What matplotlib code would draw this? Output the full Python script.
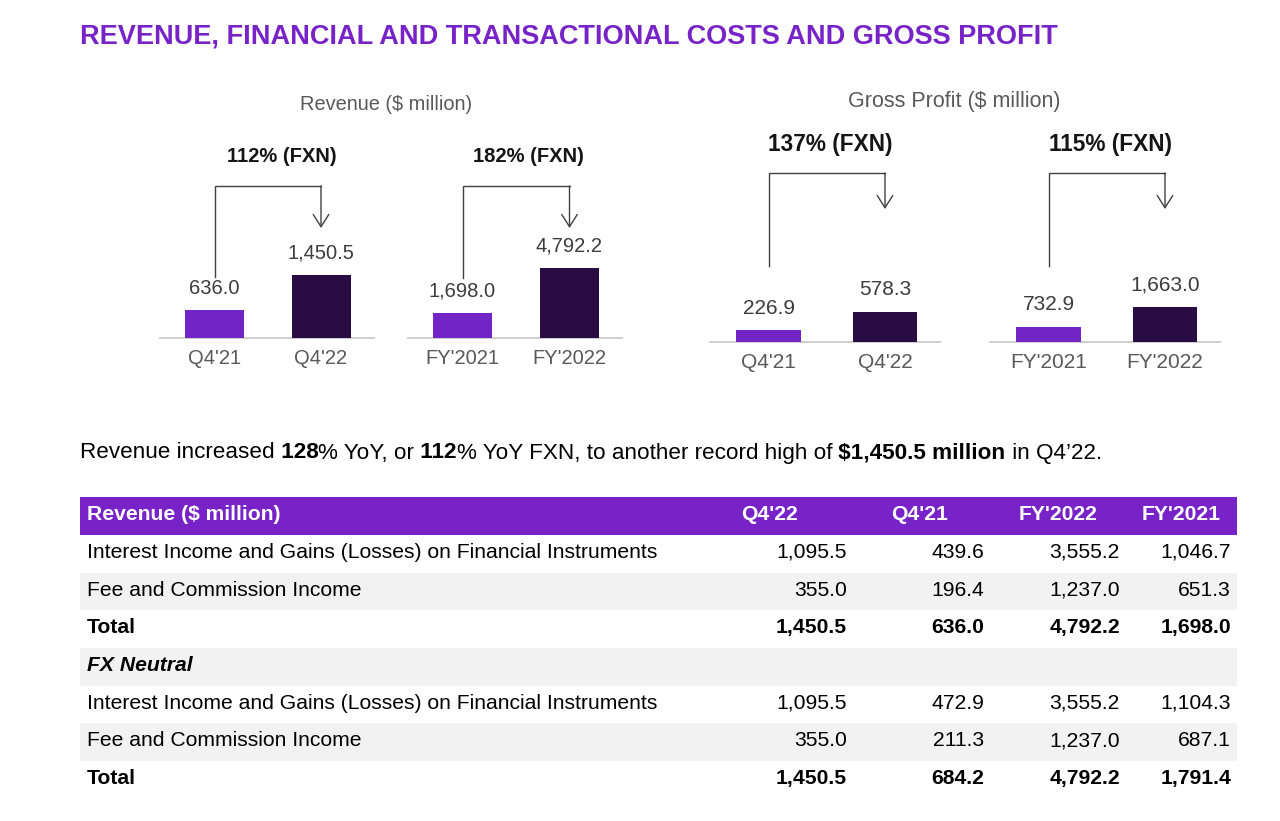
import matplotlib
matplotlib.use("Agg")
import matplotlib.pyplot as plt
from matplotlib import transforms
from matplotlib.patches import Rectangle

plt.rcParams['font.family'] = ['Liberation Sans', 'DejaVu Sans']

W, H = 1280, 821
PURPLE = '#7723c8'
LIGHT_BAR = '#7224c6'
DARK_BAR = '#2a0c44'
GREY_TXT = '#595959'
VAL_TXT = '#3c3c3c'

# ---- data ----
title = "REVENUE, FINANCIAL AND TRANSACTIONAL COSTS AND GROSS PROFIT"

rev_q_labels = ["Q4'21", "Q4'22"]
rev_q_values = [636.0, 1450.5]
rev_fy_labels = ["FY'2021", "FY'2022"]
rev_fy_values = [1698.0, 4792.2]

gp_q_labels = ["Q4'21", "Q4'22"]
gp_q_values = [226.9, 578.3]
gp_fy_labels = ["FY'2021", "FY'2022"]
gp_fy_values = [732.9, 1663.0]

growth = ["112% (FXN)", "182% (FXN)", "137% (FXN)", "115% (FXN)"]

sentence = [("Revenue increased", 'normal'), (" 128", 'bold'), ("% YoY, or", 'normal'),
            (" 112", 'bold'), ("% YoY FXN, to another record high of", 'normal'),
            (" $1,450.5 million", 'bold'), (" in Q4\u201922.", 'normal')]

table_header = "Revenue ($ million)"
table_columns = ["Q4'22", "Q4'21", "FY'2022", "FY'2021"]
row_labels = ["Interest Income and Gains (Losses) on Financial Instruments",
              "Fee and Commission Income", "Total", "FX Neutral",
              "Interest Income and Gains (Losses) on Financial Instruments",
              "Fee and Commission Income", "Total"]
row_values = [[1095.5, 439.6, 3555.2, 1046.7],
              [355.0, 196.4, 1237.0, 651.3],
              [1450.5, 636.0, 4792.2, 1698.0],
              None,
              [1095.5, 472.9, 3555.2, 1104.3],
              [355.0, 211.3, 1237.0, 687.1],
              [1450.5, 684.2, 4792.2, 1791.4]]

fig = plt.figure(figsize=(W / 100, H / 100), dpi=100)
fig.patch.set_facecolor('white')

# overlay axes in pixel coordinates for text and layout
ov = fig.add_axes([0, 0, 1, 1])
ov.set_xlim(0, W)
ov.set_ylim(H, 0)
ov.axis('off')

ov.text(80, 37, title, fontsize=19.5, fontweight='bold', color=PURPLE,
        ha='left', va='center')

ov.text(386, 105, "Revenue ($ million)", fontsize=14.4, color=GREY_TXT, ha='center', va='center')
ov.text(954, 101, "Gross Profit ($ million)", fontsize=15.5, color=GREY_TXT, ha='center', va='center')


def panel(left, right, base, c0, c1, bar_px, scale, labels, values, gtxt,
          top, lbottom, tip, gx, gy, fs, gfs):
    unit = c1 - c0
    hpx = 220
    ax = fig.add_axes([left / W, (H - base) / H, (right - left) / W, hpx / H])
    ax.set_xlim((left - c0) / unit, (right - c0) / unit)
    ax.set_ylim(0, hpx / scale)
    ax.patch.set_alpha(0)
    for s in ax.spines.values():
        s.set_visible(False)
    ax.bar([0, 1], values, width=bar_px / unit, color=[LIGHT_BAR, DARK_BAR], zorder=3)
    ax.axhline(0, color='#c9c9c9', lw=1.3, zorder=2, clip_on=False)
    ax.set_yticks([])
    ax.set_xticks([0, 1])
    ax.set_xticklabels(labels, fontsize=fs, color=GREY_TXT)
    ax.tick_params(axis='x', length=0, pad=8)
    for i, v in enumerate(values):
        ax.annotate(f"{v:,.1f}", (i, v), xytext=(0, 22), textcoords='offset pixels',
                    ha='center', va='center', fontsize=fs, color=VAL_TXT)
    bt = transforms.blended_transform_factory(ax.transData, ov.transData)
    ov.plot([0, 0, 1], [lbottom, top, top], color='#404040', lw=1, transform=bt,
            solid_joinstyle='miter')
    ov.annotate('', xy=(1, tip), xycoords=bt, xytext=(1, top), textcoords=bt,
                arrowprops=dict(arrowstyle='->,head_length=0.55,head_width=0.35',
                                mutation_scale=16, lw=1, color='#404040',
                                shrinkA=0, shrinkB=0))
    ov.text(gx, gy, gtxt, transform=bt, fontsize=gfs, fontweight='bold',
            color='#151515', ha='center', va='center')
    return ax


panel(160, 374, 338, 214.5, 321, 59, 0.0436, rev_q_labels, rev_q_values, growth[0],
      186, 277, 228, 0.63, 156, 14.5, 14.5)
panel(408, 622, 338, 462.5, 569.5, 59, 0.0146, rev_fy_labels, rev_fy_values, growth[1],
      186, 278, 228, 0.62, 156, 14.5, 14.5)
panel(710, 940, 342, 768.5, 885, 64.5, 0.052, gp_q_labels, gp_q_values, growth[2],
      173, 266, 209, 0.53, 145, 15, 16.3)
panel(990, 1220, 342, 1048.5, 1165, 64.5, 0.021, gp_fy_labels, gp_fy_values, growth[3],
      173, 266, 209, 0.53, 145, 15, 16.3)

# sentence with bold pieces
txt = None
for s, w in sentence:
    if txt is None:
        txt = ov.text(80, 453, s, fontsize=16.2, fontweight=w, color='black',
                      ha='left', va='center')
    else:
        txt = ov.annotate(s, xy=(1, 0), xycoords=txt, fontsize=16.2, fontweight=w,
                          color='black', ha='left', va='bottom')

# table
TFS = 15.2
t_left, t_right = 80, 1237
head_top, head_bot = 497, 535
row_h = 37.7
ov.add_patch(Rectangle((t_left, head_top), t_right - t_left, head_bot - head_top,
                       color=PURPLE, lw=0))
ov.text(87, 515, table_header, fontsize=TFS, fontweight='bold', color='white',
        ha='left', va='center')
head_x = [769, 920, 1058, 1181]
val_right = [847, 984, 1120, 1231]
for x, c in zip(head_x, table_columns):
    ov.text(x, 515, c, fontsize=TFS, fontweight='bold', color='white', ha='center', va='center')

for i, (lab, vals) in enumerate(zip(row_labels, row_values)):
    y0 = head_bot + i * row_h
    if i % 2 == 1:
        ov.add_patch(Rectangle((t_left, y0), t_right - t_left, row_h, color='#f2f2f2', lw=0))
    yc = y0 + row_h / 2 - 1.5
    bold = lab in ("Total", "FX Neutral")
    ov.text(87, yc, lab, fontsize=TFS, fontweight='bold' if bold else 'normal',
            fontstyle='italic' if lab == "FX Neutral" else 'normal',
            color='black', ha='left', va='center')
    if vals is None:
        continue
    for x, v in zip(val_right, vals):
        ov.text(x, yc, f"{v:,.1f}", fontsize=TFS, fontweight='bold' if bold else 'normal',
                color='black', ha='right', va='center')

fig.savefig('out.png', dpi=100, facecolor='white')
